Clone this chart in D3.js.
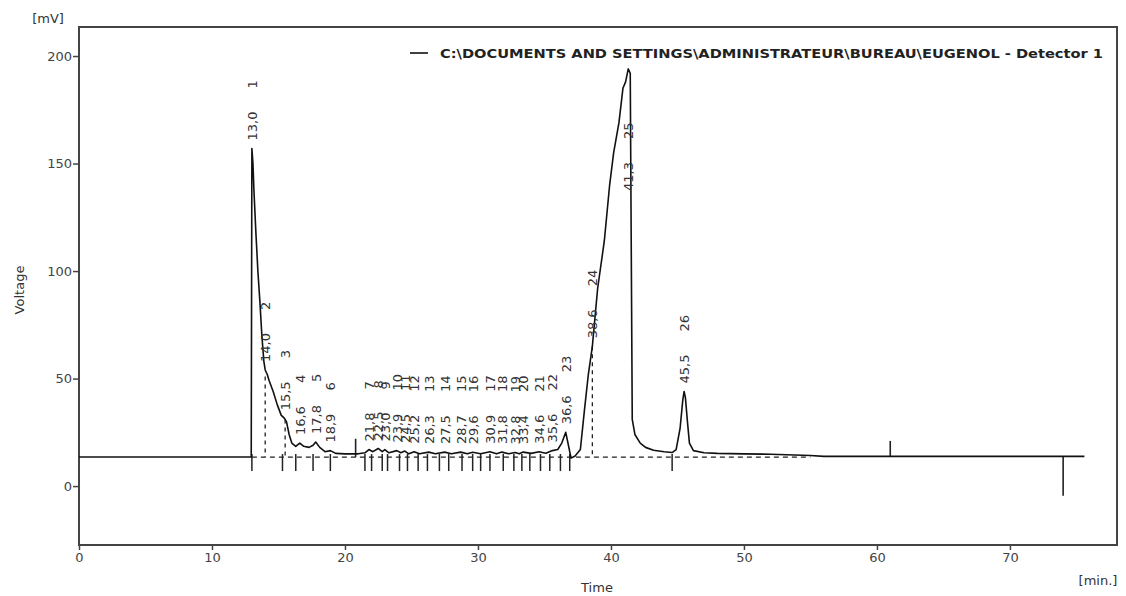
<!DOCTYPE html>
<html>
<head>
<meta charset="utf-8">
<script src="https://cdn.jsdelivr.net/npm/d3@7"></script>
<style>
  body { margin: 0; background: #fff; }
  svg { display: block; }
  text { font-family: "DejaVu Sans", sans-serif; fill: #333; }
</style>
</head>
<body>
<svg id="chart"></svg>
<script>
// signal trace, [time (min), voltage (mV)]
const signal = [
  [0, 13.5], [12.95, 13.5], [13.0, 157], [13.08, 150], [13.15, 138], [13.3, 118], [13.45, 100],
  [13.6, 86], [13.75, 70], [13.9, 58], [14.0, 54], [14.15, 52], [14.3, 49], [14.6, 44],
  [14.9, 38], [15.2, 33], [15.45, 31.5], [15.6, 30], [15.8, 24], [16.0, 20], [16.3, 18.5],
  [16.6, 20], [16.9, 18.5], [17.3, 18], [17.6, 19], [17.8, 20.5], [18.1, 18], [18.5, 16],
  [18.9, 16.5], [19.3, 15.2], [20.0, 15], [21.0, 15], [21.5, 15.5], [21.8, 17], [22.1, 16],
  [22.5, 17.5], [22.8, 16], [23.0, 17], [23.3, 15.5], [23.9, 16.5], [24.2, 15.5], [24.5, 16.3],
  [24.8, 15], [25.2, 16], [25.6, 15], [26.3, 15.8], [26.8, 15], [27.5, 15.8], [28.0, 15],
  [28.7, 15.8], [29.2, 15], [29.6, 15.7], [30.2, 15], [30.9, 16], [31.4, 15], [31.8, 15.8],
  [32.3, 15], [32.8, 15.6], [33.1, 15], [33.4, 15.8], [34.0, 15.2], [34.6, 16], [35.1, 15.3],
  [35.6, 16.5], [36.0, 17], [36.3, 20], [36.6, 25], [36.8, 19], [37.0, 13], [37.3, 14],
  [37.7, 17], [38.0, 35], [38.3, 52], [38.6, 65], [39.0, 92], [39.5, 114], [39.9, 140],
  [40.2, 155], [40.6, 169], [40.9, 185], [41.1, 188], [41.3, 194], [41.45, 192], [41.6, 31],
  [41.8, 24], [42.2, 20], [42.6, 18], [43.2, 16.7], [44.0, 16], [44.6, 15.6], [44.9, 17],
  [45.2, 27], [45.4, 40], [45.5, 44], [45.6, 41], [45.75, 30], [45.9, 20], [46.2, 16.5],
  [47, 15.5], [48, 15.2], [50, 15], [52, 14.8], [55, 14.2], [56, 13.8], [75.6, 13.8]
];

// peak table
const peakNumbers = [1, 2, 3, 4, 5, 6, 7, 8, 9, 10, 11, 12, 13, 14, 15, 16, 17, 18, 19, 20, 21, 22, 23, 24, 25, 26];
const peakTimes = [13.0, 14.0, 15.5, 16.6, 17.8, 18.9, 21.8, 22.5, 23.0, 23.9, 24.5, 25.2, 26.3, 27.5,
  28.7, 29.6, 30.9, 31.8, 32.8, 33.4, 34.6, 35.6, 36.6, 38.6, 41.3, 45.5];
const peakHeights = [157, 54, 31.5, 20, 20.5, 16.5, 17, 17.5, 17, 16.5, 16.3, 16, 15.8, 15.8,
  15.8, 15.7, 16, 15.8, 15.6, 15.8, 16, 16.5, 25, 65, 194, 44];

// integration marks, baseline and drop lines
const integrationMarks = [13.0, 15.3, 16.3, 17.6, 18.9, 21.5, 22.0, 22.8, 23.2, 24.1, 24.7, 25.5,
  26.2, 27.1, 27.8, 28.8, 29.6, 30.2, 30.9, 31.9, 32.7, 33.3, 33.9, 34.7, 35.4, 36.2, 36.9, 44.6];
const baselineLevel = 13.5;
const baselineRange = [13.0, 55];
const dropLineTimes = [14.0, 15.5, 38.6];
const dropLineTops = [51, 31, 65];

// event spikes
const eventTimes = [20.8, 61.0, 74.0];
const eventLevels = [22, 21, -4.5];

const xTicks = [0, 10, 20, 30, 40, 50, 60, 70];
const yTicks = [0, 50, 100, 150, 200];

const seriesName = 'C:\\DOCUMENTS AND SETTINGS\\ADMINISTRATEUR\\BUREAU\\EUGENOL - Detector 1';

function makeChart() {
  let w = 1126;
  let h = 596;
  let margin = {top: 27, right: 9, bottom: 51, left: 79};

  let svg = d3.select('#chart')
    .attr('width', w)
    .attr('height', h);

  let x = d3.scaleLinear()
    .domain([0, 78.05])
    .range([margin.left, w - margin.right]);

  let y = d3.scaleLinear()
    .domain([-27.4, 213.5])
    .range([h - margin.bottom, margin.top]);

  // axes
  let xAxis = svg.append('g')
    .attr('transform', `translate(0,${h - margin.bottom})`)
    .call(d3.axisBottom(x).tickValues(xTicks).tickSize(5).tickPadding(3));

  let yAxis = svg.append('g')
    .attr('transform', `translate(${margin.left},0)`)
    .call(d3.axisLeft(y).tickValues(yTicks).tickSize(6).tickPadding(1));

  [xAxis, yAxis].forEach(a => {
    a.select('.domain').remove();
    a.selectAll('line').style('stroke', '#444').style('stroke-width', 1.5);
    a.selectAll('text')
      .style('font-size', '13px')
      .style('fill', '#444')
      .style('font-family', '"DejaVu Sans", sans-serif');
  });

  // frame
  svg.append('rect')
    .attr('x', margin.left)
    .attr('y', margin.top)
    .attr('width', w - margin.left - margin.right)
    .attr('height', h - margin.top - margin.bottom)
    .style('fill', 'none')
    .style('stroke', '#444')
    .style('stroke-width', 2);

  // axis titles
  svg.append('text').attr('x', 48).attr('y', 23)
    .attr('text-anchor', 'middle').style('font-size', '13px').text('[mV]');
  svg.append('text')
    .attr('transform', `translate(24,${290}) rotate(-90)`)
    .attr('text-anchor', 'middle').style('font-size', '13px').text('Voltage');
  svg.append('text').attr('x', 597).attr('y', 592)
    .attr('text-anchor', 'middle').style('font-size', '13px').text('Time');
  svg.append('text').attr('x', 1098).attr('y', 585)
    .attr('text-anchor', 'middle').style('font-size', '13px').text('[min.]');

  // dashed baseline and drop lines
  svg.append('line')
    .attr('x1', x(baselineRange[0])).attr('x2', x(baselineRange[1]))
    .attr('y1', y(baselineLevel)).attr('y2', y(baselineLevel))
    .style('stroke', '#222').style('stroke-width', 1.3).style('stroke-dasharray', '5,4');

  svg.selectAll('.drop')
    .data(dropLineTimes)
    .enter()
    .append('line')
    .attr('x1', d => x(d)).attr('x2', d => x(d))
    .attr('y1', (d, i) => y(dropLineTops[i]))
    .attr('y2', y(baselineLevel))
    .style('stroke', '#222').style('stroke-width', 1.3).style('stroke-dasharray', '4,4');

  // integration marks
  svg.selectAll('.mark')
    .data(integrationMarks)
    .enter()
    .append('line')
    .attr('x1', d => x(d)).attr('x2', d => x(d))
    .attr('y1', y(baselineLevel) - 3)
    .attr('y2', y(baselineLevel) + 14)
    .style('stroke', '#222').style('stroke-width', 1.5);

  // event spikes
  svg.selectAll('.event')
    .data(eventTimes)
    .enter()
    .append('line')
    .attr('x1', d => x(d)).attr('x2', d => x(d))
    .attr('y1', y(baselineLevel))
    .attr('y2', (d, i) => y(eventLevels[i]))
    .style('stroke', '#222').style('stroke-width', 1.6);

  // trace
  let line = d3.line()
    .x(d => x(d[0]))
    .y(d => y(d[1]));

  svg.append('path')
    .datum(signal)
    .attr('d', line)
    .style('fill', 'none')
    .style('stroke', '#111')
    .style('stroke-width', 1.6)
    .style('stroke-linejoin', 'round');

  // peak labels: above the peak, or inside it when there is no room left above
  let labelStart = (i) => {
    let top = y(peakHeights[i]) - 8;
    return (top - 75 < margin.top) ? y(peakHeights[i]) + 122 : top;
  };

  let labels = svg.selectAll('.peak')
    .data(peakTimes)
    .enter()
    .append('g')
    .attr('transform', (d, i) => `translate(${x(d) + 5},${labelStart(i)}) rotate(-90)`);

  labels.append('text')
    .attr('x', 0).attr('y', 0)
    .style('font-size', '13px')
    .style('fill', '#333')
    .text(d => d.toFixed(1).replace('.', ','));

  labels.append('text')
    .attr('x', 52).attr('y', 0)
    .style('font-size', '13px')
    .style('fill', '#333')
    .text((d, i) => peakNumbers[i]);

  // legend
  svg.append('line')
    .attr('x1', 410).attr('x2', 428)
    .attr('y1', 53).attr('y2', 53)
    .style('stroke', '#111').style('stroke-width', 1.6);

  svg.append('text')
    .attr('x', 440).attr('y', 58)
    .attr('textLength', 663)
    .attr('lengthAdjust', 'spacingAndGlyphs')
    .style('font-size', '13px')
    .style('font-weight', 'bold')
    .style('fill', '#222')
    .text(seriesName);
}

window.onload = function () {
  makeChart();
}
</script>
</body>
</html>
